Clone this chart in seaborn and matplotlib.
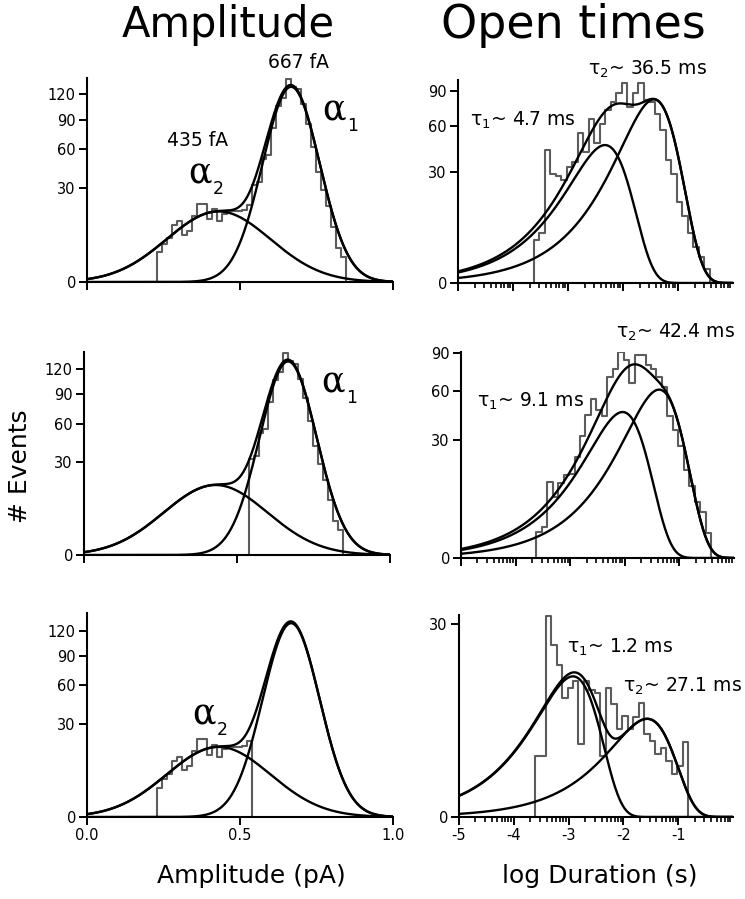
import numpy as np
import matplotlib
matplotlib.use("Agg")
import matplotlib.pyplot as plt
import seaborn as sns
from matplotlib.ticker import FixedLocator, NullFormatter, FixedFormatter

# ---------------- data ----------------
# Amplitude histogram (pA), one shared binning; bottom row = bins 0-18, middle = bins 19-37
amp_bin_start = 0.228
amp_bin_width = 0.0163
amp_counts = [3.0, 5.0, 6.5, 11, 12.5, 7.5, 9, 15, 21, 21, 13.5, 18, 12.5, 16, 17, 17, 17, 17.5, 20,
              32, 34, 52, 55, 81, 106, 116, 141, 130, 127, 108, 85, 62, 41, 29, 19.5, 10.5, 4, 2.2]
amp_split = 19
# Gaussian fit components (alpha1, alpha2)
amp_means = [0.667, 0.43]
amp_sigmas = [0.066, 0.12]
amp_peaks = [130, 17]

# Open-time histograms, log10 duration (s)
dur_bin_start = -3.62
dur_bin_width = 0.1
dur_counts_top = [4.5, 6, 43, 29, 28, 26, 33, 36, 55, 42, 66, 48, 62, 73, 80, 88, 98, 76, 88, 98,
                  82, 80, 70, 57, 37, 29, 16, 11, 6, 3.2, 1.7, 0.5]
dur_counts_mid = [1.45, 2.1, 12.4, 8, 12, 14.7, 15, 22, 32, 44, 54, 47, 43, 70, 77, 91, 84, 66, 88, 88,
                  80, 77, 70, 63, 43, 35, 27, 16.5, 11, 6.7, 4.5, 1.3]
dur_counts_bot = [3.0, 3.0, 32.7, 24, 18.7, 11.5, 13.5, 15, 4.3, 15, 13, 12.5, 3, 13.5, 10.3, 6.2, 8.3,
                  6.2, 8.1, 10.5, 5.6, 4.7, 3.2, 3.9, 2.5, 1.5, 2.1, 4.6]
# exponential components (time constants in ms, peak heights in events)
tau_top = [4.7, 36.5]
tau_mid = [9.1, 42.4]
tau_bot = [1.2, 27.1]
tau_peaks_top = [46.5, 82.4]
tau_peaks_mid = [45.7, 60.8]
tau_peaks_bot = [16, 7.8]

amp_yticks = [0, 30, 60, 90, 120]
dur_yticks_big = [0, 30, 60, 90]
dur_yticks_small = [0, 30]
amp_xticks = [0.0, 0.5, 1.0]
amp_xticklabels = ["0.0", "0.5", "1.0"]
dur_xticks = [-5, -4, -3, -2, -1]
dur_xticklabels = ["-5", "-4", "-3", "-2", "-1"]

# ---------------- styling ----------------
sns.set_style("ticks")
plt.rcParams["font.family"] = ["DejaVu Sans"]
plt.rcParams["axes.unicode_minus"] = False
for k in ["text.color", "axes.labelcolor", "xtick.color", "ytick.color", "axes.edgecolor"]:
    plt.rcParams[k] = "black"

W, H = 745, 899
fig = plt.figure(figsize=(W / 100, H / 100), dpi=100)

HIST_C = "0.36"
CURVE_C = "black"


def add_ax(l, t, r, b):
    return fig.add_axes([l / W, 1 - b / H, (r - l) / W, (b - t) / H])


def ftxt(x, y, s, **kw):
    fig.text(x / W, 1 - y / H, s, **kw)


def fwd(v):
    return np.sqrt(np.clip(v, 0, None))


def inv(v):
    return np.square(v)


def style_axis(ax, ytop, yticks):
    ax.set_yscale("function", functions=(fwd, inv))
    ax.set_ylim(0, ytop)
    ax.yaxis.set_major_locator(FixedLocator(yticks))
    ax.yaxis.set_major_formatter(FixedFormatter([str(v) for v in yticks]))
    ax.yaxis.set_minor_locator(FixedLocator([]))
    for s in ["top", "right"]:
        ax.spines[s].set_visible(False)
    for s in ["left", "bottom"]:
        ax.spines[s].set_linewidth(1.5)
        ax.spines[s].set_color("black")
    ax.tick_params(axis="both", which="major", direction="out", length=6, width=1.4,
                   labelsize=10.5, pad=2, color="black", labelcolor="black")
    ax.tick_params(axis="both", which="minor", direction="out", length=3.5, width=1.2,
                   color="black")
    ax.set_xlabel("")
    ax.set_ylabel("")
    ax.patch.set_alpha(0)


def draw_hist(ax, start, width, counts):
    counts = list(counts)
    n = len(counts)
    edges = list(start + width * np.arange(n + 1))
    xs = [edges[0]] + edges + [edges[-1]]
    ys = [0.0] + counts + [counts[-1], 0.0]
    sns.lineplot(x=xs, y=ys, estimator=None, sort=False, drawstyle="steps-post",
                 color=HIST_C, lw=1.5, ax=ax)


def amp_panel(ax, counts_slice, start):
    draw_hist(ax, start, amp_bin_width, counts_slice)
    xs = np.linspace(0, 1, 500)
    comps = [a * np.exp(-(xs - m) ** 2 / (2 * s ** 2))
             for m, s, a in zip(amp_means, amp_sigmas, amp_peaks)]
    for c in comps + [sum(comps)]:
        sns.lineplot(x=xs, y=c, color=CURVE_C, lw=1.7, ax=ax)
    ax.set_xlim(0, 1.0)
    ax.xaxis.set_major_locator(FixedLocator(amp_xticks))


def dur_panel(ax, counts, taus_ms, peaks):
    draw_hist(ax, dur_bin_start, dur_bin_width, counts)
    xs = np.linspace(-5, 0, 600)
    t = 10.0 ** xs
    comps = []
    for tau, a in zip(taus_ms, peaks):
        u = t / (tau / 1000.0)
        comps.append(a * u * np.exp(1 - u))
    for c in comps + [sum(comps)]:
        sns.lineplot(x=xs, y=c, color=CURVE_C, lw=1.7, ax=ax)
    ax.set_xlim(-5, 0)
    ax.xaxis.set_major_locator(FixedLocator(dur_xticks))
    ax.xaxis.set_minor_locator(FixedLocator(
        [d + np.log10(k) for d in range(-5, 0) for k in range(2, 10)]))


# ---------------- panels ----------------
ax_tl = add_ax(87, 78, 393, 282)
amp_panel(ax_tl, amp_counts, amp_bin_start)
style_axis(ax_tl, 142, amp_yticks)
ax_tl.xaxis.set_major_formatter(NullFormatter())

ax_ml = add_ax(84, 352, 390, 555)
amp_panel(ax_ml, amp_counts[amp_split:], amp_bin_start + amp_split * amp_bin_width)
style_axis(ax_ml, 143, amp_yticks)
ax_ml.xaxis.set_major_formatter(NullFormatter())

ax_bl = add_ax(87, 613, 393, 817)
amp_panel(ax_bl, amp_counts[:amp_split], amp_bin_start)
style_axis(ax_bl, 144, amp_yticks)
ax_bl.xaxis.set_major_formatter(FixedFormatter(amp_xticklabels))

ax_tr = add_ax(458, 80, 733, 283)
dur_panel(ax_tr, dur_counts_top, tau_top, tau_peaks_top)
style_axis(ax_tr, 100.7, dur_yticks_big)
ax_tr.xaxis.set_major_formatter(NullFormatter())
ax_tr.xaxis.set_minor_formatter(NullFormatter())

ax_mr = add_ax(461, 352, 734, 558)
dur_panel(ax_mr, dur_counts_mid, tau_mid, tau_peaks_mid)
style_axis(ax_mr, 91, dur_yticks_big)
ax_mr.xaxis.set_major_formatter(NullFormatter())
ax_mr.xaxis.set_minor_formatter(NullFormatter())

ax_br = add_ax(459, 615, 733, 817)
dur_panel(ax_br, dur_counts_bot, tau_bot, tau_peaks_bot)
style_axis(ax_br, 33, dur_yticks_small)
ax_br.xaxis.set_major_formatter(FixedFormatter(dur_xticklabels))
ax_br.xaxis.set_minor_formatter(NullFormatter())

# ---------------- text ----------------
ftxt(228, 37, "Amplitude", fontsize=30, ha="center", va="baseline")
ftxt(573, 38, "Open times", fontsize=33, ha="center", va="baseline")
ftxt(20, 466, "# Events", fontsize=18, ha="center", va="center", rotation=90)
ftxt(251, 876, "Amplitude (pA)", fontsize=18, ha="center", va="center")
ftxt(600, 876, "log Duration (s)", fontsize=18, ha="center", va="center")

ftxt(298, 63, "667 fA", fontsize=13.5, ha="center", va="center")
ftxt(198, 141, "435 fA", fontsize=13.5, ha="center", va="center")

alpha_labels = [(200, 183, "2"), (334, 120, "1"), (333, 392, "1"), (204, 724, "2")]
for x, y, sub in alpha_labels:
    ftxt(x, y, "α", fontsize=25, family=["DejaVu Serif"], ha="center", va="baseline")
    ftxt(x + 13, y + 11, sub, fontsize=12.5, ha="left", va="baseline")

tau_labels = [
    (470, 126, r"$\mathregular{\tau_1}$~ 4.7 ms"),
    (588, 75, r"$\mathregular{\tau_2}$~ 36.5 ms"),
    (477, 407, r"$\mathregular{\tau_1}$~ 9.1 ms"),
    (616, 338, r"$\mathregular{\tau_2}$~ 42.4 ms"),
    (567, 653, r"$\mathregular{\tau_1}$~ 1.2 ms"),
    (623, 692, r"$\mathregular{\tau_2}$~ 27.1 ms"),
]
for x, y, s in tau_labels:
    ftxt(x, y, s, fontsize=13.5, ha="left", va="baseline")

fig.savefig("out.png", dpi=100)
